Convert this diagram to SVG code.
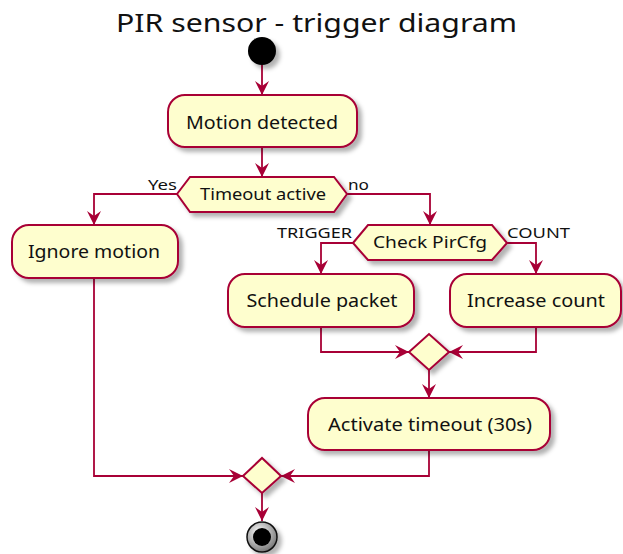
<svg xmlns="http://www.w3.org/2000/svg" width="623" height="554" viewBox="0 0 623 554">
  <style>
    .box { fill: #FEFECE; stroke: #A80036; stroke-width: 2; }
    .txt { font-family: "Noto Sans", "DejaVu Sans", sans-serif; font-size: 17.5px; fill: #111; text-anchor: middle; }
    .dec { font-family: "Noto Sans", "DejaVu Sans", sans-serif; font-size: 16.5px; fill: #111; text-anchor: middle; }
    .lbl { font-family: "Noto Sans", "DejaVu Sans", sans-serif; font-size: 15px; fill: #111; }
    .edge { fill: none; stroke: #A80036; stroke-width: 1.8; marker-end: url(#arrow); }
  </style>
  <defs>
    <filter id="shadow" x="-20%" y="-20%" width="150%" height="160%">
      <feDropShadow dx="4" dy="4" stdDeviation="2" flood-color="#000" flood-opacity="0.3"/>
    </filter>
    <marker id="arrow" viewBox="-15 -8 16 16" refX="0" refY="0" markerWidth="16" markerHeight="16" markerUnits="userSpaceOnUse" orient="auto">
      <path d="M0,0 L-14,-7 L-9,0 L-14,7 Z" fill="#A80036"/>
    </marker>
    <radialGradient id="endFill" cx="40%" cy="35%" r="70%">
      <stop offset="0" stop-color="#ffffff"/>
      <stop offset="1" stop-color="#707070"/>
    </radialGradient>
  </defs>

  <rect width="623" height="554" fill="#ffffff"/>

  <text x="316.5" y="32" font-family="'Noto Sans', 'DejaVu Sans', sans-serif" font-size="26" fill="#111" text-anchor="middle" textLength="401" lengthAdjust="spacingAndGlyphs">PIR sensor - trigger diagram</text>

  <!-- connectors -->
  <g id="connectors">
    <path class="edge" d="M262,65 L262,95"/>
    <path class="edge" d="M262,147 L262,177"/>
    <path class="edge" d="M177,194 L94,194 L94,225"/>
    <path class="edge" d="M347,194 L430,194 L430,225"/>
    <path class="edge" d="M353,243 L321,243 L321,274"/>
    <path class="edge" d="M507,243 L536,243 L536,274"/>
    <path class="edge" d="M321,327 L321,352 L409,352"/>
    <path class="edge" d="M536,327 L536,352 L449,352"/>
    <path class="edge" d="M429,370 L429,398"/>
    <path class="edge" d="M94,278 L94,476 L243,476"/>
    <path class="edge" d="M429,450 L429,476 L281,476"/>
    <path class="edge" d="M262,493 L262,521"/>
    <text class="lbl" x="148" y="190" textLength="29" lengthAdjust="spacingAndGlyphs">Yes</text>
    <text class="lbl" x="348" y="190" textLength="21" lengthAdjust="spacingAndGlyphs">no</text>
    <text class="lbl" x="277" y="238" textLength="75" lengthAdjust="spacingAndGlyphs">TRIGGER</text>
    <text class="lbl" x="507" y="238" textLength="63" lengthAdjust="spacingAndGlyphs">COUNT</text>
  </g>

  <!-- start -->
  <g id="start">
    <circle cx="262" cy="51" r="14" fill="#000" filter="url(#shadow)"/>
  </g>

  <g id="motion-detected">
    <rect class="box" x="168" y="95" width="189" height="52" rx="17" filter="url(#shadow)"/>
    <text class="txt" x="262" y="129" textLength="152" lengthAdjust="spacingAndGlyphs">Motion detected</text>
  </g>

  <g id="timeout-active">
    <polygon class="box" points="177,194 190,177 334,177 347,194 334,212 190,212" filter="url(#shadow)"/>
    <text class="dec" x="263" y="200" textLength="126" lengthAdjust="spacingAndGlyphs">Timeout active</text>
  </g>

  <g id="ignore-motion">
    <rect class="box" x="12" y="225" width="166" height="53" rx="17" filter="url(#shadow)"/>
    <text class="txt" x="94" y="258" textLength="132" lengthAdjust="spacingAndGlyphs">Ignore motion</text>
  </g>

  <g id="check-pircfg">
    <polygon class="box" points="353,243 368,225 492,225 507,243 492,260 368,260" filter="url(#shadow)"/>
    <text class="dec" x="430" y="248" textLength="114" lengthAdjust="spacingAndGlyphs">Check PirCfg</text>
  </g>

  <g id="schedule-packet">
    <rect class="box" x="228" y="274" width="186" height="53" rx="17" filter="url(#shadow)"/>
    <text class="txt" x="322" y="307" textLength="151" lengthAdjust="spacingAndGlyphs">Schedule packet</text>
  </g>

  <g id="increase-count">
    <rect class="box" x="450" y="274" width="171" height="53" rx="17" filter="url(#shadow)"/>
    <text class="txt" x="536" y="307" textLength="138" lengthAdjust="spacingAndGlyphs">Increase count</text>
  </g>

  <g id="merge-1">
    <polygon class="box" points="409,352 429,334 449,352 429,370" filter="url(#shadow)"/>
  </g>

  <g id="activate-timeout">
    <rect class="box" x="308" y="398" width="242" height="52" rx="17" filter="url(#shadow)"/>
    <text class="txt" x="430" y="431" textLength="204" lengthAdjust="spacingAndGlyphs">Activate timeout (30s)</text>
  </g>

  <g id="merge-2">
    <polygon class="box" points="243,476 262,458 281,476 262,493" filter="url(#shadow)"/>
  </g>

  <g id="stop">
    <circle cx="262" cy="537" r="15" fill="url(#endFill)" stroke="#111" stroke-width="1.5" filter="url(#shadow)"/>
    <circle cx="262" cy="537" r="9" fill="#000"/>
  </g>
</svg>
